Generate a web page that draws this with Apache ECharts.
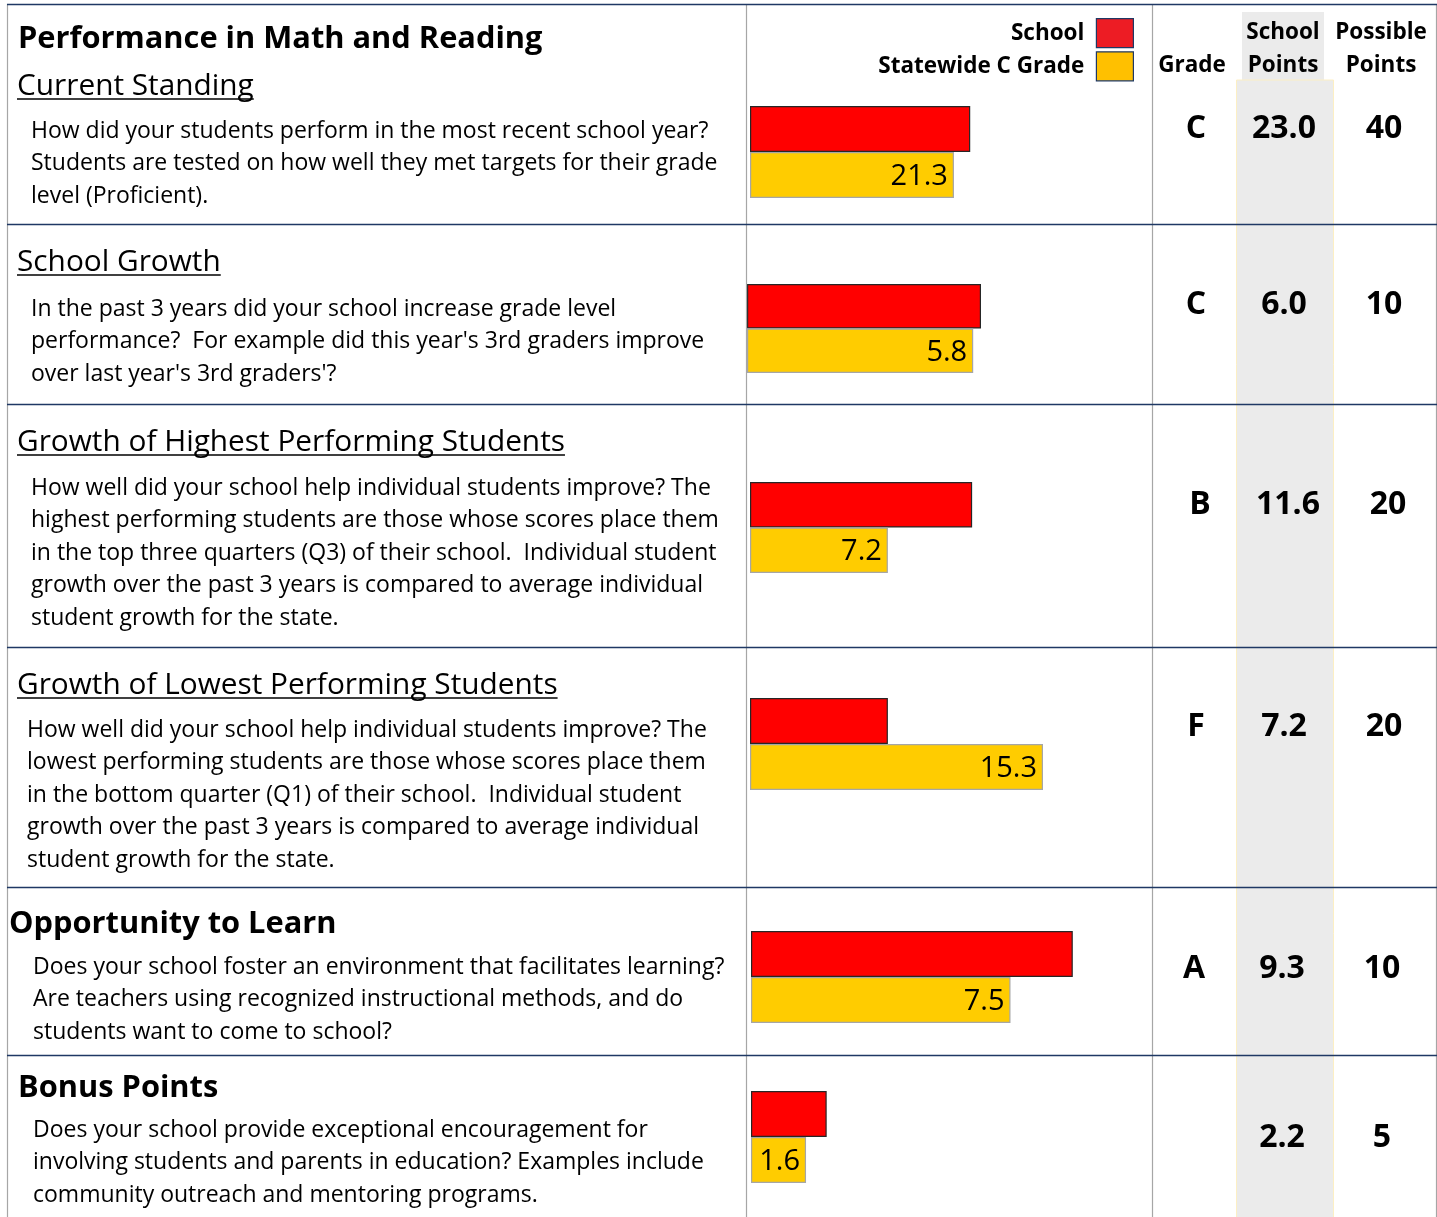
<!DOCTYPE html>
<html><head><meta charset="utf-8">
<script src="https://cdn.jsdelivr.net/npm/echarts@6/dist/echarts.min.js"></script>
<style>html,body{margin:0;padding:0;background:#fff}#c{width:1437px;height:1217px}</style>
</head><body><div id="c"></div>
<script>
// ---------- DATA ----------
const sections = ['Current Standing', 'School Growth', 'Growth of Highest Performing Students',
  'Growth of Lowest Performing Students', 'Opportunity to Learn', 'Bonus Points'];
const schoolPoints = [23.0, 6.0, 11.6, 7.2, 9.3, 2.2];
const statewidePoints = [21.3, 5.8, 7.2, 15.3, 7.5, 1.6];
const possiblePoints = [40, 10, 20, 20, 10, 5];
const grades = ['C', 'C', 'B', 'F', 'A', ''];
const seriesNames = ['School', 'Statewide C Grade'];
const mainTitle = 'Performance in Math and Reading';
const headers = { grade: 'Grade', school: ['School', 'Points'], possible: ['Possible', 'Points'] };
const descriptions = [
  ['How did your students perform in the most recent school year?',
   'Students are tested on how well they met targets for their grade',
   'level (Proficient).'],
  ['In the past 3 years did your school increase grade level',
   'performance?  For example did this year\'s 3rd graders improve',
   'over last year\'s 3rd graders\'?'],
  ['How well did your school help individual students improve? The',
   'highest performing students are those whose scores place them',
   'in the top three quarters (Q3) of their school.  Individual student',
   'growth over the past 3 years is compared to average individual',
   'student growth for the state.'],
  ['How well did your school help individual students improve? The',
   'lowest performing students are those whose scores place them',
   'in the bottom quarter (Q1) of their school.  Individual student',
   'growth over the past 3 years is compared to average individual',
   'student growth for the state.'],
  ['Does your school foster an environment that facilitates learning?',
   'Are teachers using recognized instructional methods, and do',
   'students want to come to school?'],
  ['Does your school provide exceptional encouragement for',
   'involving students and parents in education? Examples include',
   'community outreach and mentoring programs.']
];

// ---------- LAYOUT ----------
const FONT = '"Open Sans"';
const DESC_SIZE = 23, TITLE_SIZE = 29.8, BOLD_SIZE = 30.8, HEAD_SIZE = 22.5, VAL_SIZE = 32, LABEL_SIZE = 29;
const DY = 1.5;
const layout = [
  {titleX:17, titleY:85, underline:true, descX:31, descY:130, gridL:750, gridT:106, gridH:92, gridW:383, valY:127, gX:1196, pX:1284, mX:1384},
  {titleX:17, titleY:261, underline:true, descX:31, descY:308, gridL:747, gridT:284, gridH:89, gridW:390, valY:303, gX:1196, pX:1284, mX:1384},
  {titleX:17, titleY:441, underline:true, descX:31, descY:487, gridL:750, gridT:482, gridH:91, gridW:383, valY:503, gX:1200, pX:1288, mX:1388},
  {titleX:17, titleY:684, underline:true, descX:27, descY:729, gridL:750, gridT:698, gridH:92, gridW:383, valY:725, gX:1196, pX:1284, mX:1384},
  {titleX:9, titleY:923, underline:false, descX:33, descY:966, gridL:751, gridT:931, gridH:92, gridW:346, valY:967, gX:1194, pX:1282, mX:1382},
  {titleX:18, titleY:1087, underline:false, descX:33, descY:1129, gridL:751, gridT:1091, gridH:92, gridW:172, valY:1136, gX:1194, pX:1282, mX:1382}
];
const LINE_H = 32.4;
const NAVY = '#1f3864', GREY = '#a6a6a6';

const ctx = document.createElement('canvas').getContext('2d');
function textW(t, font) { ctx.font = font; return ctx.measureText(t).width; }

const graphics = [];
// grey School Points column
graphics.push({type:'rect', z:-10, shape:{x:1242, y:12, width:82, height:72}, style:{fill:'#ebebeb'}});
graphics.push({type:'rect', z:-10, shape:{x:1236.5, y:80, width:97, height:1140}, style:{fill:'#ebebeb', stroke:'#fcefc4', lineWidth:1}});
// rules
const hLines = [4, 224, 404, 647, 887, 1055];
hLines.forEach(y => graphics.push({type:'line', z:5, shape:{x1:7, y1:y+0.5, x2:1437, y2:y+0.5}, style:{stroke:NAVY, lineWidth:1.5}}));
[7, 746, 1152, 1436].forEach(x => graphics.push({type:'line', z:4, shape:{x1:x+0.5, y1:4, x2:x+0.5, y2:1217}, style:{stroke:GREY, lineWidth:1.2}}));

function txt(t, x, y, size, bold, align) {
  graphics.push({type:'text', z:10, x:x, y:y + DY, style:{text:t, fill:'#000', font:(bold?'bold ':'')+size+'px '+FONT,
    textAlign:align||'left', textVerticalAlign:'middle'}});
}
txt(mainTitle, 18, 38, BOLD_SIZE, true);
// headers
txt(headers.grade, 1192, 64, HEAD_SIZE, true, 'center');
txt(headers.school[0], 1283, 31, HEAD_SIZE, true, 'center');
txt(headers.school[1], 1283, 64, HEAD_SIZE, true, 'center');
txt(headers.possible[0], 1381, 31, HEAD_SIZE, true, 'center');
txt(headers.possible[1], 1381, 64, HEAD_SIZE, true, 'center');

sections.forEach((s, i) => {
  const L = layout[i];
  if (L.underline) {
    txt(s, L.titleX, L.titleY, TITLE_SIZE, false);
    const w = textW(s, TITLE_SIZE + 'px ' + FONT);
    graphics.push({type:'line', z:10, shape:{x1:L.titleX, y1:L.titleY+14, x2:L.titleX+w, y2:L.titleY+14}, style:{stroke:'#000', lineWidth:1.5}});
  } else {
    txt(s, L.titleX, L.titleY, BOLD_SIZE, true);
  }
  descriptions[i].forEach((line, k) => txt(line, L.descX, L.descY + k * LINE_H, DESC_SIZE, false));
  txt(grades[i], L.gX, L.valY, VAL_SIZE, true, 'center');
  txt(schoolPoints[i].toFixed(1), L.pX, L.valY, VAL_SIZE, true, 'center');
  txt(String(possiblePoints[i]), L.mX, L.valY, VAL_SIZE, true, 'center');
});

const grids = [], xAxes = [], yAxes = [], series = [];
sections.forEach((s, i) => {
  const L = layout[i];
  grids.push({left:L.gridL, top:L.gridT, width:L.gridW, height:L.gridH, containLabel:false});
  xAxes.push({type:'value', gridIndex:i, min:0, max:possiblePoints[i], show:false});
  yAxes.push({type:'category', gridIndex:i, data:[s], inverse:true, show:false});
  series.push({name:seriesNames[0], type:'bar', xAxisIndex:i, yAxisIndex:i, data:[schoolPoints[i]],
    barGap:'0%', barCategoryGap:'0%', silent:true,
    itemStyle:{color:'#ff0000', borderColor:'#262626', borderWidth:1.2}, label:{show:false}});
  series.push({name:seriesNames[1], type:'bar', xAxisIndex:i, yAxisIndex:i, data:[statewidePoints[i]],
    barGap:'0%', barCategoryGap:'0%', silent:true,
    itemStyle:{color:'#ffcc00', borderColor:'#a6a6a6', borderWidth:1.2},
    label:{show:true, position:'insideRight', distance:6, offset:[0,1.5], color:'#000', fontFamily:'Open Sans', fontSize:LABEL_SIZE,
      formatter: p => p.value.toFixed(1)}});
});

const chart = echarts.init(document.getElementById('c'), null, {renderer:'canvas'});
chart.setOption({
  animation:false,
  backgroundColor:'#fff',
  grid:grids, xAxis:xAxes, yAxis:yAxes, series:series,
  legend:{data:[{name:seriesNames[0], itemStyle:{color:'#ed1c24'}}, {name:seriesNames[1], itemStyle:{color:'#ffc000'}}],
    orient:'vertical', right:298, top:13, align:'right', icon:'rect', itemWidth:37, itemHeight:29, itemGap:3,
    selectedMode:false,
    itemStyle:{borderColor:NAVY, borderWidth:1.2},
    textStyle:{fontFamily:'Open Sans', fontWeight:'bold', fontSize:HEAD_SIZE, color:'#000', padding:[6,7,0,0]}},
  graphic:graphics
});
</script></body></html>
